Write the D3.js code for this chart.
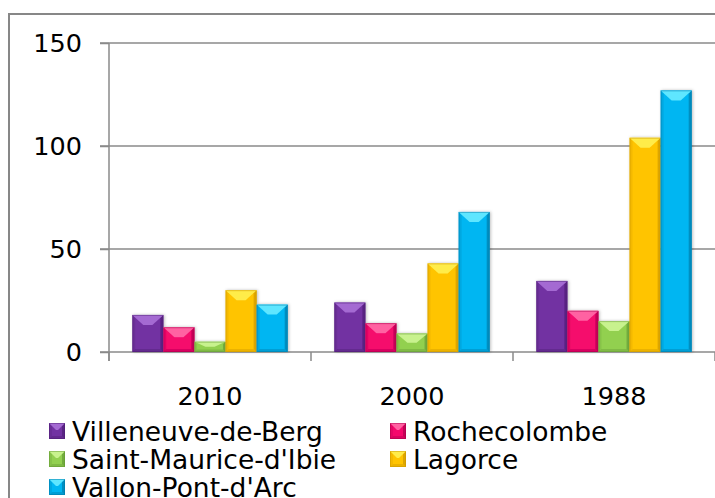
<!DOCTYPE html>
<html>
<head>
<meta charset="utf-8">
<script src="https://cdn.jsdelivr.net/npm/d3@7"></script>
<style>
  body { margin: 0; background: #fff; }
  svg { font-family: Verdana, "DejaVu Sans", sans-serif; }
</style>
</head>
<body>
<div id="chart"></div>
<script>
// data
var years = ["2010", "2000", "1988"];
var communes = ["Villeneuve-de-Berg", "Rochecolombe", "Saint-Maurice-d'Ibie", "Lagorce", "Vallon-Pont-d'Arc"];
var villeneuve = [18, 24, 34.5];
var rochecolombe = [12, 14, 20];
var saintMaurice = [5, 9, 15];
var lagorce = [30, 43, 104];
var vallon = [23, 68, 127];
var yTicks = [0, 50, 100, 150];

var seriesValues = [villeneuve, rochecolombe, saintMaurice, lagorce, vallon];

// colors: base, light (top bevel), dark (edges)
var palette = [
  ["#7232a2", "#a46ad2", "#4a1b6e"],
  ["#f5086c", "#ff62a2", "#a3004a"],
  ["#92d050", "#c8f28e", "#5e9230"],
  ["#ffc400", "#ffec4a", "#c69200"],
  ["#00b6f2", "#5ee6ff", "#00739f"]
];

var W = 715, H = 498;
var plotL = 109, plotR = 715, plotT = 43, plotB = 352;

var svg = d3.select("#chart").append("svg")
  .attr("width", W)
  .attr("height", H);

var defs = svg.append("defs");
defs.append("filter").attr("id", "shadow")
  .attr("x", "-20%").attr("y", "-20%").attr("width", "140%").attr("height", "140%")
  .append("feDropShadow")
  .attr("dx", 1).attr("dy", 0).attr("stdDeviation", 1.6)
  .attr("flood-color", "#000").attr("flood-opacity", 0.25);

// chart border
svg.append("rect")
  .attr("x", 9).attr("y", 14)
  .attr("width", 720).attr("height", 500)
  .attr("fill", "none")
  .attr("stroke", "#878787")
  .attr("stroke-width", 2);

// scales
var x0 = d3.scaleBand().domain(years).range([plotL, plotR]);
var x1 = d3.scaleBand().domain(communes).range([0, x0.bandwidth()])
  .paddingInner(0).paddingOuter(0.75);
var y = d3.scaleLinear().domain([0, 150]).range([plotB, plotT]);

// gridlines
svg.append("g")
  .selectAll("line")
  .data(yTicks)
  .enter().append("line")
  .attr("x1", plotL - 9).attr("x2", plotR)
  .attr("y1", function (d) { return y(d); })
  .attr("y2", function (d) { return y(d); })
  .attr("stroke", "#8a8a8a")
  .attr("stroke-width", 1.5);

// y axis
var yAxis = svg.append("g")
  .attr("transform", "translate(" + plotL + ",0)")
  .call(d3.axisLeft(y).tickValues(yTicks).tickSize(9).tickPadding(18));
yAxis.select(".domain").remove();
yAxis.selectAll("line").attr("stroke", "#8a8a8a").attr("stroke-width", 1.5);
yAxis.selectAll("text")
  .style("font-size", "25.5px")
  .style("font-family", "Verdana, 'DejaVu Sans', sans-serif")
  .attr("fill", "#000");

svg.append("line")
  .attr("x1", plotL).attr("x2", plotL)
  .attr("y1", plotT).attr("y2", plotB + 9)
  .attr("stroke", "#8a8a8a").attr("stroke-width", 1.5);

// x axis ticks between categories
var boundaries = years.map(function (d) { return x0(d); }).concat([plotR]);
svg.append("g")
  .selectAll("line")
  .data(boundaries)
  .enter().append("line")
  .attr("x1", function (d) { return d; }).attr("x2", function (d) { return d; })
  .attr("y1", plotB).attr("y2", plotB + 9)
  .attr("stroke", "#8a8a8a").attr("stroke-width", 1.5);

// x labels
svg.append("g")
  .selectAll("text")
  .data(years)
  .enter().append("text")
  .attr("x", function (d) { return x0(d) + x0.bandwidth() / 2; })
  .attr("y", 396)
  .attr("text-anchor", "middle")
  .attr("dominant-baseline", "central")
  .style("font-size", "25.5px")
  .text(function (d) { return d; });

// beveled box: light top wedge, darker right edge and bottom
function bevel(g, bx, by, bw, bh, c, bt, bs) {
  var pts = function (arr) { return arr.map(function (p) { return p.join(","); }).join(" "); };
  var t = Math.min(bt, bh / 2);
  var s = Math.min(bs, bw / 2);
  var e = Math.min(3, bw / 5, bh / 4);
  g.append("rect").attr("x", bx).attr("y", by).attr("width", bw).attr("height", bh).attr("fill", c[0]);
  // bottom band
  g.append("polygon").attr("points", pts([[bx, by + bh], [bx + e, by + bh - e], [bx + bw - e, by + bh - e], [bx + bw, by + bh]]))
    .attr("fill", c[2]).attr("opacity", 0.35);
  // left edge
  g.append("polygon").attr("points", pts([[bx, by], [bx + e, by + e], [bx + e, by + bh - e], [bx, by + bh]]))
    .attr("fill", c[2]).attr("opacity", 0.2);
  // right edge
  g.append("polygon").attr("points", pts([[bx + bw, by], [bx + bw - e, by + e], [bx + bw - e, by + bh - e], [bx + bw, by + bh]]))
    .attr("fill", c[2]).attr("opacity", 0.6);
  // top wedge
  g.append("polygon").attr("points", pts([[bx, by], [bx + bw, by], [bx + bw - s, by + t], [bx + s, by + t]]))
    .attr("fill", c[1]);
  // outline
  g.append("rect").attr("x", bx + 0.5).attr("y", by + 0.5).attr("width", Math.max(bw - 1, 0)).attr("height", Math.max(bh - 1, 0))
    .attr("fill", "none").attr("stroke", c[2]).attr("stroke-opacity", 0.45).attr("stroke-width", 1);
}

// bars
var barsG = svg.append("g").attr("filter", "url(#shadow)");
seriesValues.forEach(function (vals, si) {
  var sg = barsG.append("g");
  vals.forEach(function (v, yi) {
    var bx = x0(years[yi]) + x1(communes[si]);
    var by = y(v);
    var bh = y(0) - y(v);
    bevel(sg.append("g"), bx, by, x1.bandwidth(), bh, palette[si], 10, 11);
  });
});

// legend
var legendPos = [[49, 431], [390, 431], [49, 459], [390, 459], [49, 487]];
var legend = svg.append("g");
communes.forEach(function (name, i) {
  var p = legendPos[i];
  var lg = legend.append("g");
  bevel(lg, p[0], p[1] - 8, 16, 16, palette[i], 7, 7);
  lg.append("text")
    .attr("x", p[0] + 23).attr("y", p[1])
    .attr("dominant-baseline", "central")
    .style("font-size", "26.5px")
    .text(name);
});
</script>
</body>
</html>
